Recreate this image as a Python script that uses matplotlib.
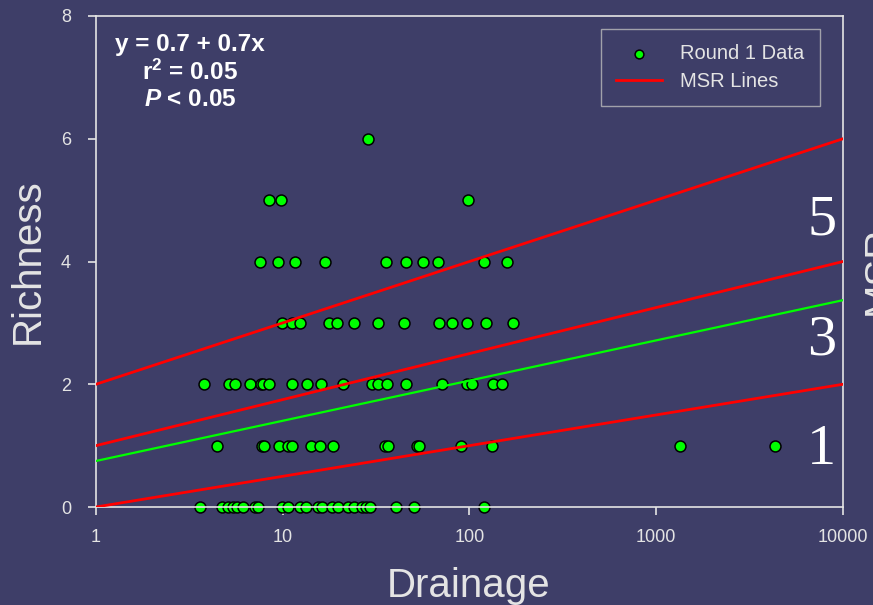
import matplotlib
matplotlib.use("Agg")
import matplotlib.pyplot as plt
from matplotlib.ticker import FixedLocator, FixedFormatter, NullLocator
import numpy as np

plt.rcParams['font.family'] = ['Liberation Sans', 'DejaVu Sans']
plt.rcParams['mathtext.fontset'] = 'custom'
plt.rcParams['mathtext.rm'] = 'Liberation Sans:bold'
plt.rcParams['mathtext.bf'] = 'Liberation Sans:bold'
plt.rcParams['mathtext.it'] = 'Liberation Sans:italic:bold'

# drainage values, grouped by richness level
drain_r0 = [3.6, 4.7, 5.1, 5.4, 5.7, 6.1, 7.1, 7.4, 9.9, 10.7, 12.4, 13.3, 15.4, 16.2,
            18.4, 19.8, 22.4, 24.1, 26.6, 27.9, 29.3, 40.4, 50.4, 120]
drain_r1 = [4.45, 7.7, 7.9, 9.55, 10.7, 11.2, 14.2, 15.8, 18.6, 35.3, 36.6, 52.4, 53.5,
            90, 132, 1340, 4325]
drain_r2 = [3.8, 5.15, 5.55, 6.7, 7.65, 7.85, 8.45, 11.2, 13.5, 16.0, 21.0, 30.0, 32.4,
            36.2, 45.7, 71.2, 97, 103, 134, 149]
drain_r3 = [9.9, 11.2, 12.4, 17.7, 19.5, 24.1, 32.4, 44.6, 68.7, 80.6, 97, 122.5, 171]
drain_r4 = [7.55, 9.4, 11.6, 16.8, 35.7, 45.7, 56.4, 67.8, 119.6, 159]
drain_r5 = [8.45, 9.8, 98]
drain_r6 = [28.6]
richness_levels = [0, 1, 2, 3, 4, 5, 6]

# MSR lines: richness = a + b*log10(drainage)
msr_intercepts = [0, 1, 2]
msr_slopes = [0.5, 0.75, 1.0]
msr_labels = ['1', '3', '5']
msr_label_y = [0.93, 2.72, 4.67]

fit_intercept = 0.75
fit_slope = 0.655

x_ticks = [1, 10, 100, 1000, 10000]
x_ticklabels = ['1', '10', '100', '1000', '10000']
y_ticks = [0, 2, 4, 6, 8]

bg = '#3e3e68'
fg = '#e4e4e4'

groups = [drain_r0, drain_r1, drain_r2, drain_r3, drain_r4, drain_r5, drain_r6]
xs = []
ys = []
for lvl, g in zip(richness_levels, groups):
    xs += g
    ys += [lvl] * len(g)

fig = plt.figure(figsize=(8.73, 6.05), dpi=100, facecolor=bg)
ax = fig.add_axes([96 / 873, 1 - 507 / 605, 747 / 873, 491 / 605])
ax.set_facecolor(bg)

ax.scatter(xs, ys, s=62, c='#00ff00', edgecolors='black', linewidths=1.1, zorder=2,
           label='Round 1 Data', clip_on=False)

xline = np.logspace(0, 4, 50)
for i, (a, b) in enumerate(zip(msr_intercepts, msr_slopes)):
    ax.plot(xline, a + b * np.log10(xline), color='#ff0000', lw=2.0, zorder=3,
            label='MSR Lines' if i == 0 else None)
ax.plot(xline, fit_intercept + fit_slope * np.log10(xline), color='#00ff00', lw=1.6, zorder=3)

for lab, yv in zip(msr_labels, msr_label_y):
    ax.text(7700, yv, lab, family='Liberation Serif', fontsize=42, color='white',
            ha='center', va='center')

ax.set_xscale('log')
ax.set_xlim(1, 10000)
ax.set_ylim(0, 8)
ax.xaxis.set_major_locator(FixedLocator(x_ticks))
ax.xaxis.set_major_formatter(FixedFormatter(x_ticklabels))
ax.xaxis.set_minor_locator(NullLocator())
ax.set_yticks(y_ticks)

for s in ax.spines.values():
    s.set_color(fg)
    s.set_linewidth(1.2)
ax.tick_params(colors=fg, labelcolor=fg, labelsize=13, direction='out', length=6, width=1.2)
ax.tick_params(axis='y', pad=12)
ax.tick_params(axis='x', pad=10)

# regression stats
eq_x = (190 - 96) / 747
ax.text(eq_x, (507 - 44) / 491, 'y = 0.7 + 0.7x', transform=ax.transAxes, color='white',
        fontsize=17.5, fontweight='bold', ha='center', va='center')
ax.text(eq_x, (507 - 72) / 491, r'r$^{\mathbf{2}}$ = 0.05', transform=ax.transAxes,
        color='white', fontsize=17.5, fontweight='bold', ha='center', va='center')
ax.text(eq_x, (507 - 99) / 491, r'$\mathit{P}$ < 0.05', transform=ax.transAxes,
        color='white', fontsize=17.5, fontweight='bold', ha='center', va='center')

leg = ax.legend(loc='upper right', bbox_to_anchor=(0.969, 0.9735), borderaxespad=0,
                frameon=True, fancybox=False, facecolor=bg, edgecolor='#bbbbbb',
                fontsize=14.5, labelcolor=fg, markerscale=0.8, handlelength=2.3,
                borderpad=0.75, labelspacing=0.45, handletextpad=0.9)
leg.get_frame().set_linewidth(1.0)

fig.text(28 / 873, 1 - 261 / 605, 'Richness', rotation=90, ha='center', va='center',
         fontsize=29, color=fg)
fig.text(469 / 873, 1 - 597 / 605, 'Drainage', ha='center', va='baseline',
         fontsize=29, color=fg)
fig.text(861 / 873, 1 - 270 / 605, 'MSR', rotation=90, ha='left', va='center',
         fontsize=29, color=fg)

fig.savefig('out.png', dpi=100, facecolor=bg)
